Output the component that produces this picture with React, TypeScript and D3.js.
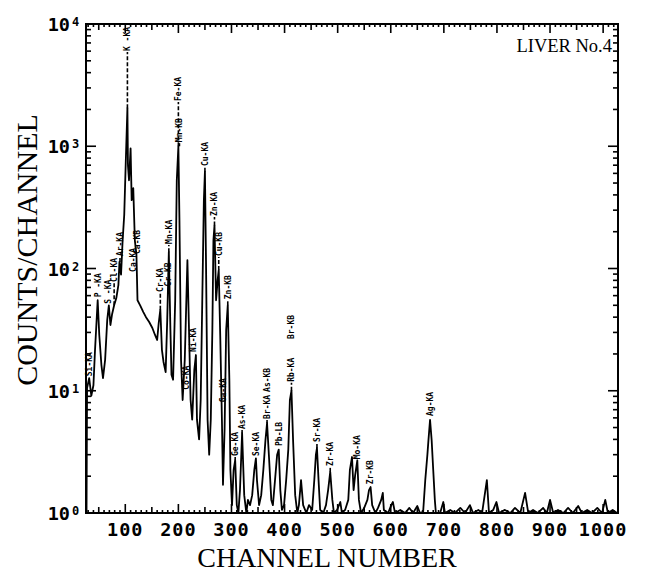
import React from "react";
import * as d3 from "d3";

// spectrum: channel number / counts per channel
const channels = [
  27, 28, 32, 36, 40, 43, 48, 51, 55, 58, 62, 66, 69, 72, 75, 79, 83, 87, 89, 92,
  95, 98, 101, 104, 105, 107, 110, 112, 115, 118, 121, 123, 128, 134, 139, 145, 151, 156, 160, 163,
  166, 169, 172, 176, 179, 182, 185, 187, 190, 194, 197, 200, 202, 205, 208, 212, 215, 217, 220, 223,
  226, 230, 233, 235, 239, 242, 245, 248, 250, 252, 255, 258, 261, 264, 266, 268, 271, 274, 276, 279,
  282, 284, 287, 290, 293, 296, 298, 301, 304, 307, 310, 313, 316, 320, 324, 328, 331, 335, 339, 343,
  346, 348, 352, 356, 360, 364, 367, 371, 375, 378, 382, 386, 389, 392, 395, 399, 403, 407, 410, 413,
  416, 420, 424, 427, 431, 435, 441, 446, 452, 456, 459, 461, 464, 467, 473, 478, 482, 486, 490, 493,
  499, 505, 508, 514, 520, 523, 527, 530, 533, 537, 540, 544, 550, 556, 559, 562, 565, 571, 576, 582,
  585, 587, 595, 601, 604, 608, 618, 627, 635, 642, 650, 655, 661, 665, 669, 671, 674, 677, 680, 683,
  685, 693, 699, 702, 712, 721, 731, 740, 749, 755, 765, 772, 781, 785, 793, 799, 804, 815, 825, 834,
  844, 853, 859, 868, 877, 887, 894, 900, 906, 915, 925, 934, 943, 953, 960, 970, 979, 989, 998, 1004,
  1009, 1018, 1026,
];
const counts = [
  1, 10.5, 12.7, 9.1, 11.1, 21.6, 55, 28.6, 16.3, 12.7, 17.9, 38, 50, 34.5, 42, 50, 57, 73, 113, 89,
  170, 274, 767, 2050, 700, 527, 960, 362, 455, 170, 130, 55, 50, 44, 40, 36.5, 32.6, 28.6, 26, 36,
  46, 21.6, 17.2, 14.2, 38, 136, 31.5, 13.5, 12.3, 55, 527, 1000, 248, 17.9, 8.4, 17.9, 55, 117, 31.5, 8.4,
  5.8, 14.8, 19.6, 5.8, 4, 8.4, 55, 362, 620, 117, 5.8, 3, 5.8, 31.5, 170, 225, 55, 81, 97, 26,
  5.8, 1.7, 4.8, 31.5, 50, 12.3, 2.25, 1.16, 2.25, 2.7, 1.16, 1, 1.54, 4.5, 1.4, 1, 1.28, 1.16, 1.4, 2.25,
  2.8, 1.86, 1.16, 1.4, 2.25, 3.95, 5.45, 2.7, 1.28, 1.16, 1.86, 3, 3.3, 1.54, 1.06, 1.16, 1.86, 3.3, 8.4, 10,
  3.95, 1.4, 1, 1.16, 1.86, 1.16, 1, 1.16, 1.06, 1.86, 3, 3.4, 1.86, 1.06, 1, 1.16, 1.54, 2.17, 1.28, 1,
  1.06, 1.23, 1, 1.06, 1.28, 2.25, 2.87, 1.54, 2.05, 2.7, 1.28, 1, 1.1, 1.28, 1.54, 1.63, 1.16, 1, 1.1, 1.28,
  1.46, 1.06, 1, 1.16, 1.23, 1, 1.06, 1, 1.1, 1, 1.14, 1, 1.02, 1.86, 3, 3.95, 5.77, 3.95, 2.25, 1.28,
  1, 1, 1.23, 1, 1.06, 1, 1.1, 1, 1.16, 1, 1.06, 1, 1.86, 1, 1.06, 1.23, 1, 1.06, 1, 1.1,
  1, 1.46, 1, 1.06, 1, 1.1, 1, 1.28, 1, 1.06, 1, 1.1, 1, 1.14, 1, 1.06, 1, 1.1, 1, 1.28,
  1, 1.06, 1,
];

// peak identifications: name, channel, peak height, counts where the label starts
const labelNames = [
  "K -KA", "Fe-KA", "Mn-KB", "Cu-KA", "Zn-KA", "Cu-KB", "Zn-KB", "Mn-KA", "Cr-KB", "Cr-KA",
  "Ca-KB", "Ca-KA", "Ar-KA", "Cl-KA", "S -KA", "P -KA", "Si-KA", "Co-KA", "Ni-KA", "Ga-KA",
  "Ge-KA", "As-KA", "Se-KA", "Br-KA", "As-KB", "Pb-LB", "Rb-KA", "Br-KB", "Sr-KA", "Zr-KA",
  "Mo-KA", "Zr-KB", "Ag-KA",
];
const labelChannels = [
  104, 200, 202, 250, 268, 276, 293, 182, 180, 166,
  122, 115, 90, 79, 67, 48, 32, 214, 228, 284,
  307, 320, 346, 367, 367, 389, 413, 413, 461, 486,
  537, 562, 674,
];
const labelPeaks = [
  2050, 1000, 1000, 620, 225, 97, 50, 136, 70, 46,
  129, 92, 113, 50, 50, 55, 12.7, 10, 19.6, 7.9,
  2.7, 4.5, 2.8, 5.45, 9.6, 3.3, 10, 26, 3.4, 2.17,
  2.7, 1.63, 5.77,
];
const labelBases = [
  5900, 2300, 1060, 676, 264, 124, 55, 156, 70, 63,
  129, 92, 124, 76, 50.5, 57, 12.9, 10, 20.4, 7.9,
  2.87, 4.77, 2.87, 5.77, 9.6, 3.47, 11.6, 26, 3.74, 2.38,
  2.7, 1.69, 6.1,
];

const xTickValues = [100, 200, 300, 400, 500, 600, 700, 800, 900, 1000];
const yDecades = [0, 1, 2, 3, 4];

const width = 645;
const height = 575;
const plot = { left: 86, right: 618, top: 24, bottom: 513 };

const mono = "'DejaVu Sans Mono', 'Liberation Mono', monospace";
const serif = "'Liberation Serif', 'DejaVu Serif', serif";

export default function App() {
  const x = d3.scaleLinear().domain([26, 1028]).range([plot.left, plot.right]);
  const y = d3.scaleLog().domain([1, 1e4]).range([plot.bottom, plot.top]);

  const line = d3
    .line<number>()
    .x((i) => x(channels[i]))
    .y((i) => y(counts[i]));
  const spectrum = line(d3.range(channels.length)) || "";

  // minor ticks every 10 channels, longer at 50s and 100s
  const xMinor = d3.range(30, 1030, 10);
  const tickLen = (c: number) => (c % 100 === 0 ? 9 : c % 50 === 0 ? 6 : 3);
  const yMinor = yDecades.slice(0, -1).flatMap((d) => d3.range(2, 10).map((k) => k * Math.pow(10, d)));

  return (
    <svg
      width={width}
      height={height}
      style={{ position: "absolute", left: 0, top: 0, background: "#fff" }}
    >
      <rect x={0} y={0} width={width} height={height} fill="#fff" />

      {/* ticks */}
      <g stroke="#000" strokeWidth={1.6}>
        {xMinor.map((c) => (
          <g key={"xt" + c}>
            <line x1={x(c)} x2={x(c)} y1={plot.bottom} y2={plot.bottom - tickLen(c)} />
            <line x1={x(c)} x2={x(c)} y1={plot.top} y2={plot.top + tickLen(c)} />
          </g>
        ))}
        {yMinor.map((v) => (
          <g key={"ym" + v}>
            <line x1={plot.left} x2={plot.left + 5} y1={y(v)} y2={y(v)} />
            <line x1={plot.right} x2={plot.right - 5} y1={y(v)} y2={y(v)} />
          </g>
        ))}
        {yDecades.map((d) => (
          <g key={"yM" + d}>
            <line x1={plot.left} x2={plot.left + 10} y1={y(Math.pow(10, d))} y2={y(Math.pow(10, d))} />
            <line x1={plot.right} x2={plot.right - 10} y1={y(Math.pow(10, d))} y2={y(Math.pow(10, d))} />
          </g>
        ))}
      </g>

      {/* spectrum */}
      <path d={spectrum} fill="none" stroke="#000" strokeWidth={1.8} strokeLinejoin="round" />

      {/* peak labels */}
      <g>
        {labelNames.map((name, i) => {
          const lx = x(labelChannels[i]);
          const yPeak = y(labelPeaks[i]);
          const yBase = y(labelBases[i]);
          return (
            <g key={"lab" + i}>
              {yPeak - yBase > 3 && (
                <line
                  x1={lx}
                  x2={lx}
                  y1={yPeak}
                  y2={yBase}
                  stroke="#000"
                  strokeWidth={1.6}
                  strokeDasharray="4,2"
                />
              )}
              <text
                transform={`translate(${lx},${yBase - 1}) rotate(-90)`}
                dy="0.36em"
                fontFamily={mono}
                fontWeight="bold"
                fontSize={8}
                fill="#000"
              >
                {name}
              </text>
            </g>
          );
        })}
      </g>

      {/* frame */}
      <rect
        x={plot.left}
        y={plot.top}
        width={plot.right - plot.left}
        height={plot.bottom - plot.top}
        fill="none"
        stroke="#000"
        strokeWidth={2}
      />

      {/* x tick labels */}
      <g fontFamily={mono} fontWeight="bold" fontSize={18.5} fill="#000" textAnchor="middle">
        {xTickValues.map((v) => (
          <text key={"xl" + v} x={x(v)} y={536} letterSpacing={1}>
            {v}
          </text>
        ))}
      </g>

      {/* y tick labels */}
      <g fontFamily={mono} fontWeight="bold" fill="#000">
        {yDecades.map((d) => (
          <g key={"yl" + d}>
            <text x={70} y={y(Math.pow(10, d)) + 7} fontSize={18.5} textAnchor="end">
              10
            </text>
            <text x={72} y={y(Math.pow(10, d)) + 2} fontSize={12}>
              {d}
            </text>
          </g>
        ))}
      </g>

      {/* titles */}
      <text
        transform="translate(37,250) rotate(-90)"
        textAnchor="middle"
        fontFamily={serif}
        fontSize={30}
        fill="#000"
      >
        COUNTS/CHANNEL
      </text>
      <text x={327} y={567} textAnchor="middle" fontFamily={serif} fontSize={28} fill="#000">
        CHANNEL NUMBER
      </text>
      <text x={612} y={52} textAnchor="end" fontFamily={serif} fontSize={18.5} fill="#000">
        LIVER No.4
      </text>
    </svg>
  );
}
